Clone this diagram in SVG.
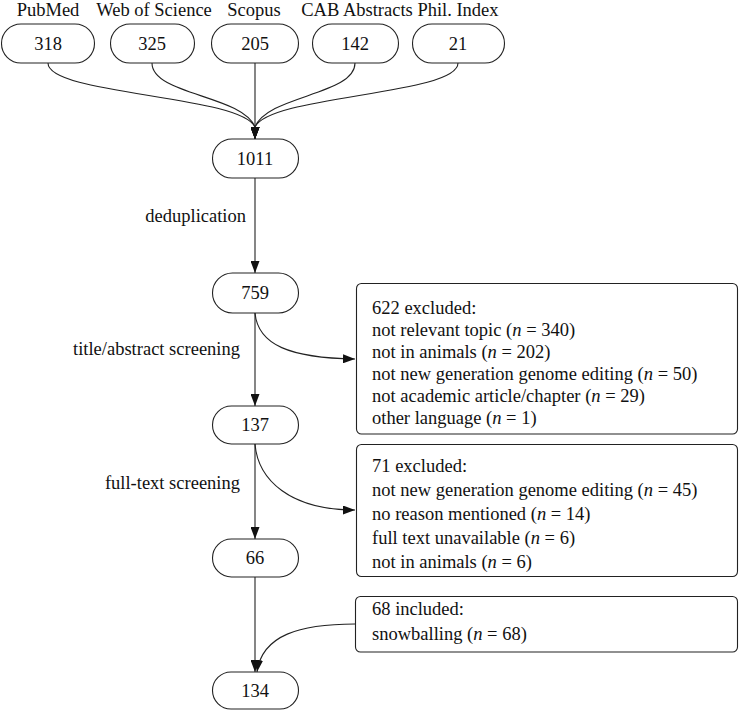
<svg xmlns="http://www.w3.org/2000/svg" width="739" height="710" viewBox="0 0 739 710">
<style>
text{font-family:"Liberation Serif","Times New Roman",serif;font-size:18.5px;fill:#111}
.n{text-anchor:middle}
.pill{fill:#fff;stroke:#222;stroke-width:1.1}
.box{fill:#fff;stroke:#222;stroke-width:1.1}
.e{fill:none;stroke:#222;stroke-width:1.1}
.i{font-style:italic}
</style>
<defs>
<marker id="ah" viewBox="0 0 12 9" refX="12" refY="4.5" markerWidth="12" markerHeight="9" orient="auto" markerUnits="userSpaceOnUse"><path d="M0,0 L12,4.5 L0,9 z" fill="#111"/></marker>
</defs>
<g id="connectors">
<path class="e" d="M48,63 C48,95 240,95 255,127 L255,139" marker-end="url(#ah)"/>
<path class="e" d="M152,63 C152,95 242,95 255,127 L255,139" marker-end="url(#ah)"/>
<path class="e" d="M255,63 L255,139" marker-end="url(#ah)"/>
<path class="e" d="M355,63 C355,95 268,95 255,127 L255,139" marker-end="url(#ah)"/>
<path class="e" d="M458,63 C458,95 270,95 255,127 L255,139" marker-end="url(#ah)"/>
<path class="e" d="M255,178 L255,273" marker-end="url(#ah)"/>
<path class="e" d="M255,313 L255,406" marker-end="url(#ah)"/>
<path class="e" d="M255,313 C258,345 290,358 355,359" marker-end="url(#ah)"/>
<path class="e" d="M255,444 C258,480 290,510 355,510" marker-end="url(#ah)"/>
<path class="e" d="M255,444 L255,539" marker-end="url(#ah)"/>
<path class="e" d="M255,577 L255,672" marker-end="url(#ah)"/>
<path class="e" d="M355,624 C300,624 262,635 257,672" marker-end="url(#ah)"/>
<text x="246" y="222" text-anchor="end">deduplication</text>
<text x="240" y="355" text-anchor="end">title/abstract screening</text>
<text x="240" y="489" text-anchor="end">full-text screening</text>
</g>
<g id="pubmed">
<text class="n" x="48" y="16">PubMed</text>
<rect class="pill" x="1.5" y="24" width="93" height="39" rx="19.5"/>
<text class="n" x="48" y="50">318</text>
</g>
<g id="wos">
<text class="n" x="154" y="16">Web of Science</text>
<rect class="pill" x="110.5" y="24" width="84" height="39" rx="19.5"/>
<text class="n" x="152" y="50">325</text>
</g>
<g id="scopus">
<text class="n" x="254" y="16">Scopus</text>
<rect class="pill" x="211.5" y="24" width="87" height="39" rx="19.5"/>
<text class="n" x="255" y="50">205</text>
</g>
<g id="cab">
<text class="n" x="357" y="16">CAB Abstracts</text>
<rect class="pill" x="312.5" y="24" width="86" height="39" rx="19.5"/>
<text class="n" x="355" y="50">142</text>
</g>
<g id="phil">
<text class="n" x="458" y="16">Phil. Index</text>
<rect class="pill" x="412.5" y="24" width="92" height="39" rx="19.5"/>
<text class="n" x="458" y="50">21</text>
</g>
<g id="n1011">
<rect class="pill" x="212.5" y="139" width="86" height="39" rx="19.5"/>
<text class="n" x="255" y="165">1011</text>
</g>
<g id="n759">
<rect class="pill" x="212.5" y="273" width="86" height="40" rx="20"/>
<text class="n" x="255" y="299">759</text>
</g>
<g id="n137">
<rect class="pill" x="212.5" y="406" width="86" height="38" rx="19"/>
<text class="n" x="255" y="431">137</text>
</g>
<g id="n66">
<rect class="pill" x="212.5" y="539" width="86" height="38" rx="19"/>
<text class="n" x="255" y="564">66</text>
</g>
<g id="n134">
<rect class="pill" x="212.5" y="672" width="86" height="37" rx="18.5"/>
<text class="n" x="255" y="697">134</text>
</g>
<g id="excluded622">
<rect class="box" x="356.5" y="283.5" width="381" height="150.5" rx="5"/>
<text x="372" y="314">622 excluded:</text>
<text x="372" y="336">not relevant topic (<tspan class="i">n</tspan> = 340)</text>
<text x="372" y="358">not in animals (<tspan class="i">n</tspan> = 202)</text>
<text x="372" y="380">not new generation genome editing (<tspan class="i">n</tspan> = 50)</text>
<text x="372" y="402">not academic article/chapter (<tspan class="i">n</tspan> = 29)</text>
<text x="372" y="424">other language (<tspan class="i">n</tspan> = 1)</text>
</g>
<g id="excluded71">
<rect class="box" x="356.5" y="444.5" width="381" height="132" rx="5"/>
<text x="372" y="472">71 excluded:</text>
<text x="372" y="496">not new generation genome editing (<tspan class="i">n</tspan> = 45)</text>
<text x="372" y="520">no reason mentioned (<tspan class="i">n</tspan> = 14)</text>
<text x="372" y="544">full text unavailable (<tspan class="i">n</tspan> = 6)</text>
<text x="372" y="568">not in animals (<tspan class="i">n</tspan> = 6)</text>
</g>
<g id="included68">
<rect class="box" x="355.5" y="596.5" width="382" height="55.5" rx="5"/>
<text x="372" y="615">68 included:</text>
<text x="372" y="640">snowballing (<tspan class="i">n</tspan> = 68)</text>
</g>
</svg>
